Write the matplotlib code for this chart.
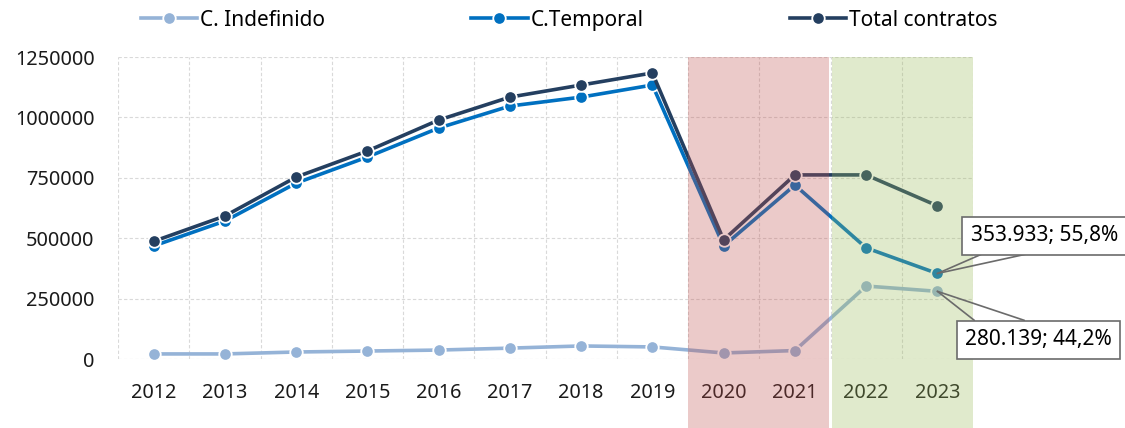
import matplotlib.pyplot as plt
from matplotlib.patches import Rectangle
from matplotlib.ticker import StrMethodFormatter
from matplotlib.transforms import blended_transform_factory

plt.rcParams['font.family'] = ['Noto Sans', 'DejaVu Sans']

# datos
anios = ['2012', '2013', '2014', '2015', '2016', '2017', '2018', '2019',
         '2020', '2021', '2022', '2023']
indefinido = [21000, 21000, 29000, 33000, 37000, 45000, 54000, 50000,
              25000, 35000, 302000, 280139]
temporal = [468000, 571000, 728000, 836000, 956000, 1047000, 1084000, 1134000,
            468000, 720000, 460000, 353933]
total = [487000, 592000, 753000, 861000, 989000, 1084000, 1134000, 1184000,
         493000, 762000, 762000, 634072]
etiquetas = ['353.933; 55,8%', '280.139; 44,2%']

x = list(range(len(anios)))

fig = plt.figure(figsize=(11.25, 4.28), dpi=100)
ax = fig.add_axes([0.1049, 0.1612, 0.76, 0.7056])

estilo = dict(lw=2.6, marker='o', markersize=9, markeredgecolor='white', markeredgewidth=1.3)
ax.plot(x, indefinido, color='#95B3D7', label='C. Indefinido', zorder=3, **estilo)
ax.plot(x, temporal, color='#0070C0', label='C.Temporal', zorder=3, **estilo)
ax.plot(x, total, color='#243F60', label='Total contratos', zorder=3, **estilo)

ax.set_xlim(-0.5, len(anios) - 0.5)
ax.set_ylim(0, 1250000)
ax.set_yticks([0, 250000, 500000, 750000, 1000000, 1250000])
ax.yaxis.set_major_formatter(StrMethodFormatter('{x:.0f}'))
ax.set_xticks(x)
ax.set_xticklabels(anios)
ax.tick_params(length=0, labelsize=14.3, colors='#1a1a1a')
ax.tick_params(axis='x', pad=17)
ax.tick_params(axis='y', pad=17)
for s in ax.spines.values():
    s.set_visible(False)

# rejilla discontinua: vertical entre categorias
ax.set_xticks([i - 0.5 for i in range(len(anios) + 1)], minor=True)
ax.tick_params(which='minor', length=0)
ax.grid(which='minor', axis='x', ls=(0, (3, 2)), color='#d9d9d9', lw=0.8)
ax.grid(which='major', axis='y', ls=(0, (3, 2)), color='#d9d9d9', lw=0.8)
ax.set_axisbelow(True)

# zonas sombreadas
tr = blended_transform_factory(ax.transData, ax.transAxes)
ax.add_patch(Rectangle((7.5, -0.4), 1.98, 1.4, transform=tr, color='#C0504D',
                       alpha=0.3, lw=0, clip_on=False, zorder=5))
ax.add_patch(Rectangle((9.52, -0.4), 1.98, 1.4, transform=tr, color='#9BBB59',
                       alpha=0.3, lw=0, clip_on=False, zorder=5))

# etiquetas de datos de 2023 con llamada en cuña
gris = '#6b6b6b'
caja = dict(boxstyle='square,pad=0.4', fc='white', ec=gris, lw=1.2)
llamadas = [
    (temporal[-1], (77, 27), [(33, 14.4), (66, 14.4)]),
    (indefinido[-1], (73, -35), [(26.6, -20.9), (62.6, -20.9)]),
]
for texto, (valor, centro, base) in zip(etiquetas, llamadas):
    for b in base:
        ax.annotate('', xy=(x[-1], valor), xytext=b, textcoords='offset points',
                    annotation_clip=False, zorder=9,
                    arrowprops=dict(arrowstyle='-', color=gris, lw=1.2,
                                    shrinkA=0, shrinkB=0))
    ax.annotate(texto, xy=(x[-1], valor), xytext=centro, textcoords='offset points',
                ha='center', va='center', fontsize=15, bbox=caja, zorder=10,
                annotation_clip=False)

fig.legend(loc='center', bbox_to_anchor=(0.506, 0.953), ncol=3, frameon=False,
           fontsize=15, handlelength=2.7, handletextpad=0.15, columnspacing=7.0)

fig.savefig('out.png', dpi=100)
